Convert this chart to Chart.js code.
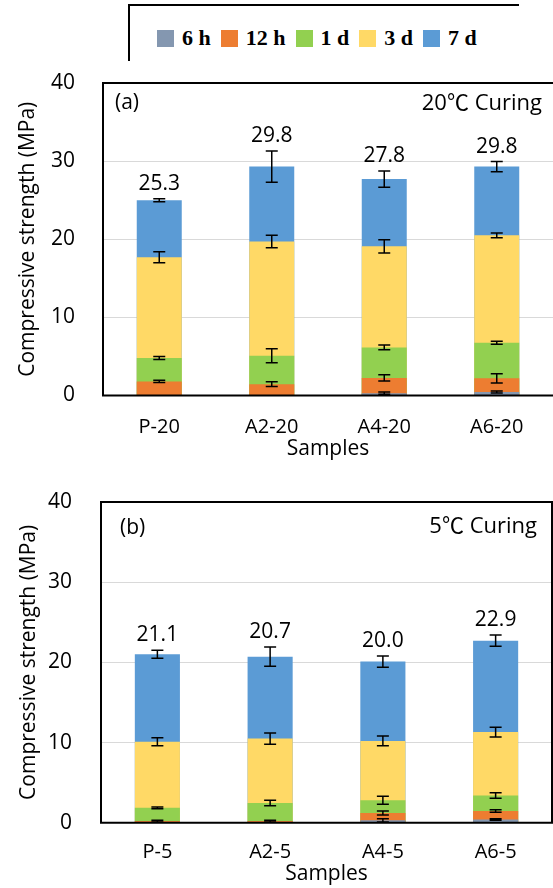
<!DOCTYPE html>
<html>
<head>
<meta charset="utf-8">
<script src="https://cdn.jsdelivr.net/npm/chart.js@4.4.1/dist/chart.umd.min.js"></script>
<style>
  body { margin: 0; background: #fff; }
  #page { position: relative; width: 553px; height: 888px; overflow: hidden; }
  #legend {
    position: absolute; left: 128px; top: 4px; width: 389px; height: 55px;
    border-top: 2px solid #000; border-left: 2px solid #000;
  }
  #legend .items {
    position: absolute; left: 27px; top: 19px; display: flex; align-items: center;
    font: bold 22px 'Liberation Serif', serif; color: #000;
  }
  #legend .item { display: flex; align-items: center; margin-right: 10px; }
  #legend .swatch { width: 17px; height: 17px; margin-right: 8px; }
  canvas { position: absolute; left: 0; }
</style>
</head>
<body>
<div id="page">
  <div id="legend"><div class="items"></div></div>
  <canvas id="chart-a" width="553" height="410" style="top:60px"></canvas>
  <canvas id="chart-b" width="553" height="413" style="top:475px"></canvas>
</div>
<script>
const seriesNames = ['6 h', '12 h', '1 d', '3 d', '7 d'];
const seriesColors = ['#8497B0', '#ED7D31', '#92D050', '#FFD966', '#5B9BD5'];

// (a) 20 ℃ curing
const samples20 = ['P-20', 'A2-20', 'A4-20', 'A6-20'];
const h6_20 = [0, 0, 0.3, 0.45];
const h12_20 = [1.8, 1.45, 2.25, 2.2];
const d1_20 = [4.8, 5.1, 6.15, 6.75];
const d3_20 = [17.7, 19.7, 19.1, 20.5];
const d7_20 = [25.0, 29.3, 27.7, 29.3];
const h6Err20 = [0, 0, 0.15, 0.12];
const h12Err20 = [0.15, 0.3, 0.4, 0.6];
const d1Err20 = [0.2, 0.9, 0.3, 0.2];
const d3Err20 = [0.7, 0.8, 0.85, 0.3];
const d7Err20 = [0.2, 2.0, 1.05, 0.65];
const totals20 = ['25.3', '29.8', '27.8', '29.8'];

// (b) 5 ℃ curing
const samples5 = ['P-5', 'A2-5', 'A4-5', 'A6-5'];
const h6_5 = [0, 0, 0.3, 0.4];
const h12_5 = [0.2, 0.2, 1.2, 1.45];
const d1_5 = [1.85, 2.45, 2.8, 3.4];
const d3_5 = [10.1, 10.5, 10.2, 11.3];
const d7_5 = [21.0, 20.7, 20.1, 22.7];
const h6Err5 = [0, 0, 0.2, 0.08];
const h12Err5 = [0.12, 0.12, 0.25, 0.15];
const d1Err5 = [0.1, 0.35, 0.5, 0.35];
const d3Err5 = [0.5, 0.7, 0.6, 0.6];
const d7Err5 = [0.5, 1.2, 0.7, 0.7];
const totals5 = ['21.1', '20.7', '20.0', '22.9'];

const FONT = "'Open Sans', 'Noto Sans CJK KR', sans-serif";

// legend built from the series arrays
const legendBox = document.querySelector('#legend .items');
seriesNames.forEach((name, i) => {
    const item = document.createElement('div');
    item.className = 'item';
    item.innerHTML = `<span class="swatch" style="background:${seriesColors[i]}"></span><span>${name}</span>`;
    legendBox.appendChild(item);
});

const errorBars = {
    id: 'errorBars',
    afterDatasetsDraw(chart) {
        const ctx = chart.ctx;
        const y = chart.scales.y;
        ctx.save();
        ctx.strokeStyle = '#000';
        ctx.lineWidth = 1.5;
        chart.data.datasets.forEach((ds, di) => {
            const meta = chart.getDatasetMeta(di);
            meta.data.forEach((bar, i) => {
                const err = ds.errors[i];
                if (!err) return;
                const v = ds.data[i];
                const top = y.getPixelForValue(v + err);
                const bot = y.getPixelForValue(Math.max(v - err, 0));
                ctx.beginPath();
                ctx.moveTo(bar.x, top); ctx.lineTo(bar.x, bot);
                ctx.moveTo(bar.x - 6, top); ctx.lineTo(bar.x + 6, top);
                ctx.moveTo(bar.x - 6, bot); ctx.lineTo(bar.x + 6, bot);
                ctx.stroke();
            });
        });
        ctx.restore();
    }
};

const panelDecor = {
    id: 'panelDecor',
    afterDraw(chart, args, opts) {
        const ctx = chart.ctx;
        const a = chart.chartArea;
        ctx.save();
        // frame
        ctx.strokeStyle = '#000';
        ctx.lineWidth = 2;
        ctx.beginPath();
        if (opts.openRight) {
            ctx.moveTo(a.right + 2, a.top); ctx.lineTo(a.left, a.top);
            ctx.lineTo(a.left, a.bottom); ctx.lineTo(a.right + 2, a.bottom);
        } else {
            ctx.rect(a.left, a.top, a.right - a.left, a.bottom - a.top);
        }
        ctx.stroke();

        ctx.fillStyle = '#000';
        ctx.font = `21px ${FONT}`;
        ctx.textBaseline = 'middle';
        ctx.textAlign = 'left';
        ctx.fillText(opts.tag, a.left + opts.tagDx, a.top + opts.tagDy);
        ctx.font = `22px ${FONT}`;
        ctx.textAlign = 'right';
        ctx.fillText(opts.note, a.right - opts.noteDx, a.top + opts.noteDy);

        // totals over the 7 d bars
        const y = chart.scales.y;
        const last = chart.data.datasets.length - 1;
        const ds = chart.data.datasets[last];
        const meta = chart.getDatasetMeta(last);
        ctx.font = `21px ${FONT}`;
        ctx.textAlign = 'center';
        ctx.textBaseline = 'alphabetic';
        meta.data.forEach((bar, i) => {
            const top = y.getPixelForValue(ds.data[i] + ds.errors[i]);
            ctx.fillText(opts.totals[i], bar.x, top - 9);
        });
        ctx.restore();
    }
};

function buildPanel(id, samples, values, errors, p) {
    return new Chart(document.getElementById(id), {
        type: 'bar',
        data: {
            labels: samples,
            datasets: seriesNames.map((name, i) => ({
                label: name,
                data: values[i],
                errors: errors[i],
                backgroundColor: seriesColors[i],
                borderWidth: 0,
                barPercentage: 0.4,
                categoryPercentage: 1
            }))
        },
        options: {
            responsive: false,
            animation: false,
            layout: { padding: { top: p.padTop, right: p.padRight, bottom: p.padBottom, left: 0 } },
            scales: {
                x: {
                    stacked: true,
                    grid: { display: false, drawTicks: false },
                    border: { display: false },
                    ticks: { color: '#000', padding: p.xTickPad, font: { family: FONT, size: 20, lineHeight: 1.2 } },
                    title: { display: true, text: 'Samples', color: '#000', padding: { top: 0, bottom: 0 }, font: { family: FONT, size: 21, lineHeight: 1.2 } },
                    afterFit: s => { s.height = p.xHeight; }
                },
                y: {
                    stacked: false,
                    min: 0, max: 40,
                    grid: { color: '#D9D9D9', drawTicks: false },
                    border: { display: false },
                    ticks: { stepSize: 10, color: '#000', padding: p.yTickPad, font: { family: FONT, size: 21, lineHeight: 1.2 } },
                    title: { display: true, text: 'Compressive strength (MPa)', color: '#000', padding: { top: p.yTitlePad, bottom: 0 }, font: { family: FONT, size: 21, lineHeight: 1.2 } },
                    afterFit: s => {
                        s.width = p.yWidth;
                        s.paddingTop = 0;
                        s.paddingBottom = 0;
                    }
                }
            },
            plugins: {
                legend: { display: false },
                tooltip: { enabled: false },
                panelDecor: p.decor
            }
        },
        plugins: [errorBars, panelDecor]
    });
}

buildPanel('chart-a', samples20,
    [h6_20, h12_20, d1_20, d3_20, d7_20],
    [h6Err20, h12Err20, d1Err20, d3Err20, d7Err20],
    {
        padTop: 23, padRight: 0, padBottom: 8, xHeight: 66.5, xTickPad: 19.5,
        yWidth: 103, yTickPad: 28, yTitlePad: 15,
        decor: { openRight: true, tag: '(a)', tagDx: 12, tagDy: 20, note: '20℃ Curing', noteDx: 11, noteDy: 21, totals: totals20 }
    });

buildPanel('chart-b', samples5,
    [h6_5, h12_5, d1_5, d3_5, d7_5],
    [h6Err5, h12Err5, d1Err5, d3Err5, d7Err5],
    {
        padTop: 27, padRight: 1, padBottom: 1, xHeight: 64.3, xTickPad: 17.3,
        yWidth: 101, yTickPad: 29, yTitlePad: 16,
        decor: { openRight: false, tag: '(b)', tagDx: 19, tagDy: 26, note: '5℃ Curing', noteDx: 15, noteDy: 25, totals: totals5 }
    });
</script>
</body>
</html>
